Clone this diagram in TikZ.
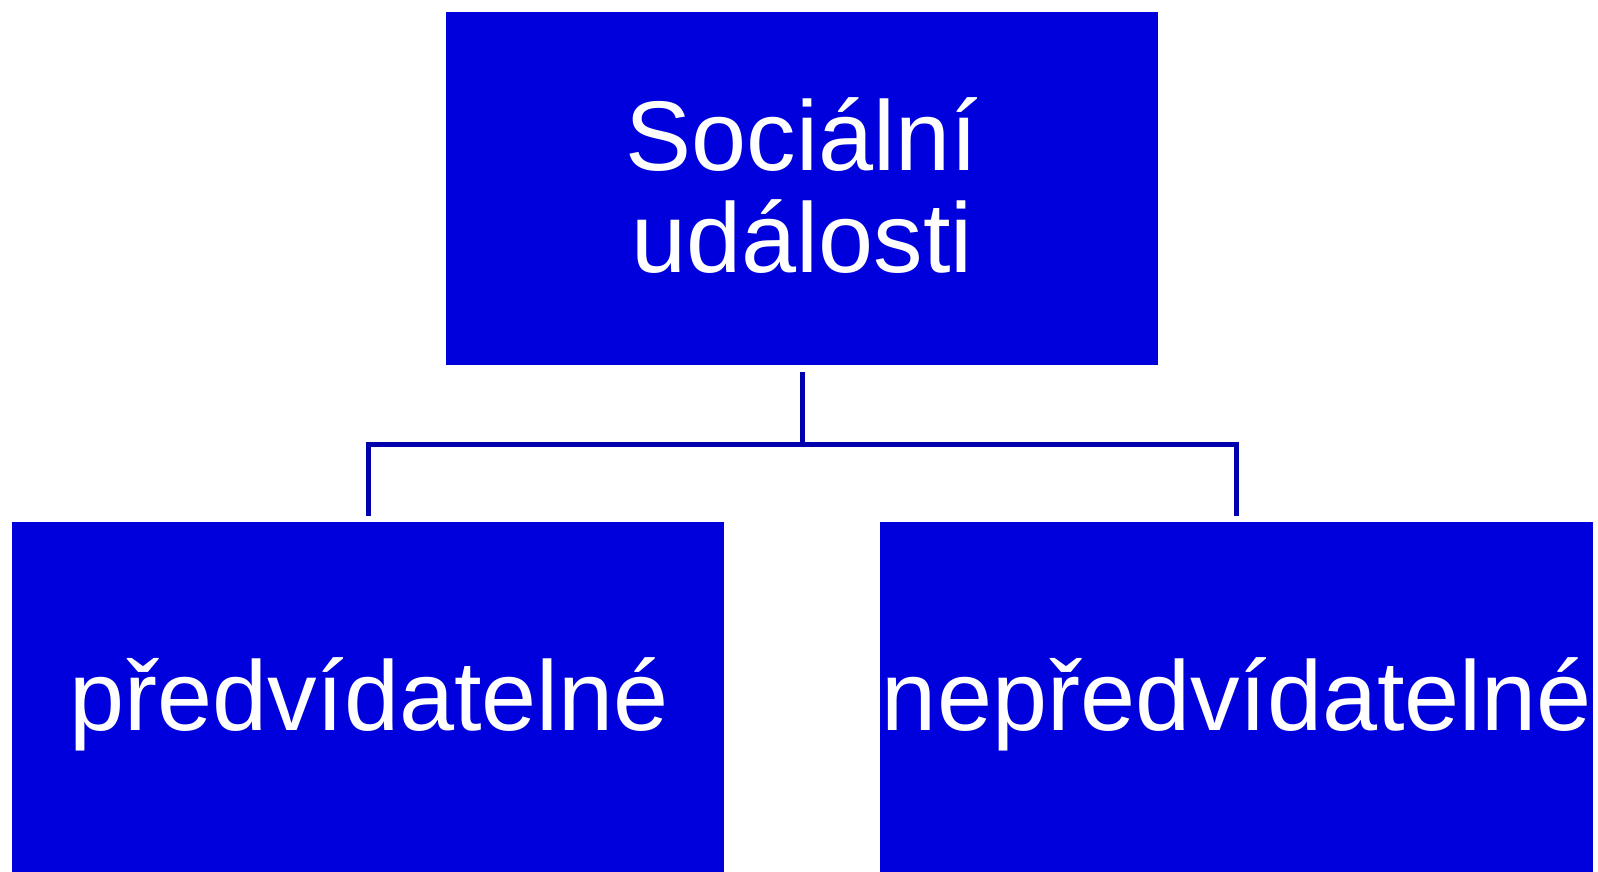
\documentclass[tikz,border=0pt]{standalone}
\usepackage{fontspec}
\setmainfont{Liberation Sans}
\definecolor{boxblue}{RGB}{0,0,220}
\definecolor{lineblue}{RGB}{0,0,172}
\begin{document}
\begin{tikzpicture}[x=1pt,y=-1pt,
  box/.style={fill=boxblue, draw=none, inner sep=0pt, minimum width=712pt, anchor=north west},
  lbl/.style={text=white, font=\fontsize{99}{102}\selectfont, anchor=base, inner sep=0pt},
  conn/.style={draw=lineblue, line width=5pt}]
\useasboundingbox (0,0) rectangle (1598,871);
\clip (0,0) rectangle (1598,871);
\node[box, minimum height=353pt] (top) at (446,12) {};
\node[box, minimum height=400pt] (left) at (12,522) {};
\node[box, minimum height=400pt, minimum width=713pt] (right) at (880,522) {};
\node[lbl] (t1) at (802,170) {Sociální};
\node[lbl] (t2) at (802,272) {události};
\node[lbl] (l1) at (369,730) {předvídatelné};
\node[lbl] (r1) at (1237,730) {nepředvídatelné};
\coordinate (j) at (802,444);
\draw[conn] ([yshift=-7pt]top.south) -- (top.south |- j);
\draw[conn] ([yshift=6pt]left.north) |- (j) -| ([yshift=6pt]right.north);
\end{tikzpicture}
\end{document}
